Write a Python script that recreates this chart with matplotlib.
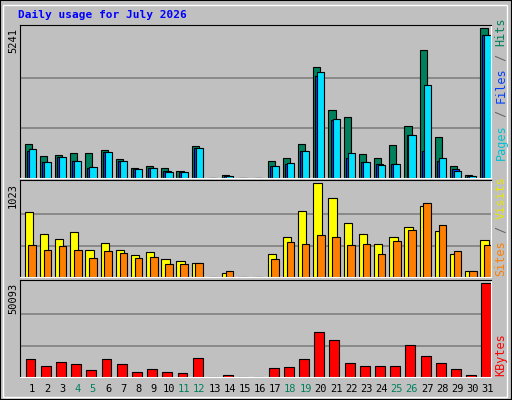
import numpy as np
import matplotlib.pyplot as plt
from matplotlib.patches import Rectangle

days = np.arange(1, 32)
weekend = [4, 5, 11, 12, 18, 19, 25, 26]

# values
hits = [1186, 759, 795, 866, 866, 973, 652, 332, 403, 332, 261, 1115, 0, 107, 0, 0,
        581, 688, 1186, 3890, 2360, 2147, 830, 688, 1150, 1826, 4459, 1435, 403, 119, 5241]
files = [937, 546, 723, 581, 356, 901, 581, 297, 332, 261, 225, 1044, 0, 71, 0, 0,
         403, 474, 937, 3570, 2040, 688, 546, 474, 474, 1506, 937, 581, 297, 83, 4993]
pages = [1008, 546, 723, 581, 368, 901, 581, 297, 332, 225, 225, 1044, 0, 83, 0, 0,
         403, 510, 937, 3712, 2075, 866, 546, 439, 474, 1506, 3249, 688, 261, 83, 4993]
visits = [701, 467, 411, 489, 289, 367, 289, 234, 267, 200, 178, 156, 0, 44, 0, 0,
          245, 434, 712, 1023, 856, 589, 467, 356, 434, 545, 767, 500, 245, 67, 400]
sites = [345, 289, 334, 289, 211, 278, 256, 211, 222, 145, 145, 156, 0, 67, 0, 0,
         200, 378, 356, 456, 434, 345, 356, 245, 389, 512, 801, 567, 278, 67, 345]
kbytes = [9506, 5667, 7861, 6764, 3473, 9506, 6764, 2925, 4022, 2925, 2376, 10054, 0, 1280, 0, 0,
          4570, 5119, 9506, 23765, 19926, 7312, 5667, 5667, 5667, 17184, 11151, 7312, 4022, 1280, 50093]

BG = '#C0C0C0'
W, H = 512, 400
fig = plt.figure(figsize=(W / 100, H / 100), dpi=100, facecolor=BG)
fig.patches.append(Rectangle((0, 0), 1, 1, transform=fig.transFigure, fill=False,
                             edgecolor='black', linewidth=1.5))
fig.patches.append(Rectangle((3 / W, 3 / H), 1 - 8 / W, 1 - 8 / H, transform=fig.transFigure,
                             fill=False, edgecolor='white', linewidth=1))
mono = 'DejaVu Sans Mono'


def panel(top, bottom):
    ax = fig.add_axes([20 / W, 1 - bottom / H, 471 / W, (bottom - top) / H])
    ax.set_facecolor(BG)
    ax.set_xlim(0.5, 31.5)
    ax.set_xticks([])
    ax.set_yticks([])
    for s in ['left', 'top']:
        ax.spines[s].set_color('black')
    for s in ['right', 'bottom']:
        ax.spines[s].set_color('white')
    return ax


def side_label(parts, ymax_px, size=8.5):
    # rotated multi-coloured label on the right, drawn bottom to top
    y = ymax_px
    adv = size * 100 / 72 * 0.602
    for text, col in parts:
        fig.text(501 / W, 1 - y / H, text, rotation=90, color=col, family=mono,
                 fontsize=size, ha='center', va='bottom')
        y -= adv * len(text)


# top panel: hits / files / pages
ax1 = panel(25, 178)
top1 = 5241
for g in [1 / 3, 2 / 3]:
    ax1.axhline(top1 * g, color='#808080', linewidth=1.2, zorder=0)
ax1.bar(days - 0.2, hits, width=0.47, align='edge', color='#00805C', edgecolor='black', linewidth=0.8)
ax1.bar(days - 0.06, files, width=0.47, align='edge', color='#0040FF', edgecolor='black', linewidth=0.8)
ax1.bar(days + 0.07, pages, width=0.47, align='edge', color='#00E0FF', edgecolor='black', linewidth=0.8)
ax1.set_ylim(0, top1 * 1.02)
fig.text(13 / W, 1 - 28 / H, str(top1), rotation=90, family=mono, fontsize=7.5, ha='center', va='top')
side_label([('Pages', '#00C0D0'), (' / ', '#606060'), ('Files', '#0040FF'),
            (' / ', '#606060'), ('Hits', '#00805C')], 160)

# middle panel: visits / sites
ax2 = panel(180, 277)
top2 = 1023
for g in [1 / 3, 2 / 3]:
    ax2.axhline(top2 * g, color='#808080', linewidth=1.2, zorder=0)
ax2.bar(days - 0.2, visits, width=0.55, align='edge', color='#FFFF00', edgecolor='black', linewidth=0.8)
ax2.bar(days + 0.05, sites, width=0.5, align='edge', color='#FF8000', edgecolor='black', linewidth=0.8)
ax2.set_ylim(0, top2 * 1.03)
fig.text(13 / W, 1 - 183 / H, str(top2), rotation=90, family=mono, fontsize=7.5, ha='center', va='top')
side_label([('Sites', '#FF8000'), (' / ', '#606060'), ('Visits', '#E8E800')], 276)

# bottom panel: kbytes
ax3 = panel(280, 377)
top3 = 50093
for g in [1 / 3, 2 / 3]:
    ax3.axhline(top3 * g, color='#808080', linewidth=1.2, zorder=0)
ax3.bar(days - 0.13, kbytes, width=0.65, align='edge', color='#FF0000', edgecolor='black', linewidth=0.8)
ax3.set_ylim(0, top3 * 1.03)
fig.text(13 / W, 1 - 283 / H, str(top3), rotation=90, family=mono, fontsize=7.5, ha='center', va='top')
side_label([('KBytes', '#FF0000')], 376)

# day labels
for d in days:
    x = 20 + (d - 0.5) * 471 / 31 + 0.3 * 471 / 31
    col = '#00805C' if d in weekend else 'black'
    fig.text(x / W, 1 - 389 / H, str(d), color=col, family=mono, fontsize=7.5, ha='center', va='center')

fig.text(18 / W, 1 - 15 / H, 'Daily usage for July 2026', color='#0000FF', family=mono,
         fontsize=8, fontweight='bold', ha='left', va='center')

fig.savefig('out.png', dpi=100, facecolor=BG)
